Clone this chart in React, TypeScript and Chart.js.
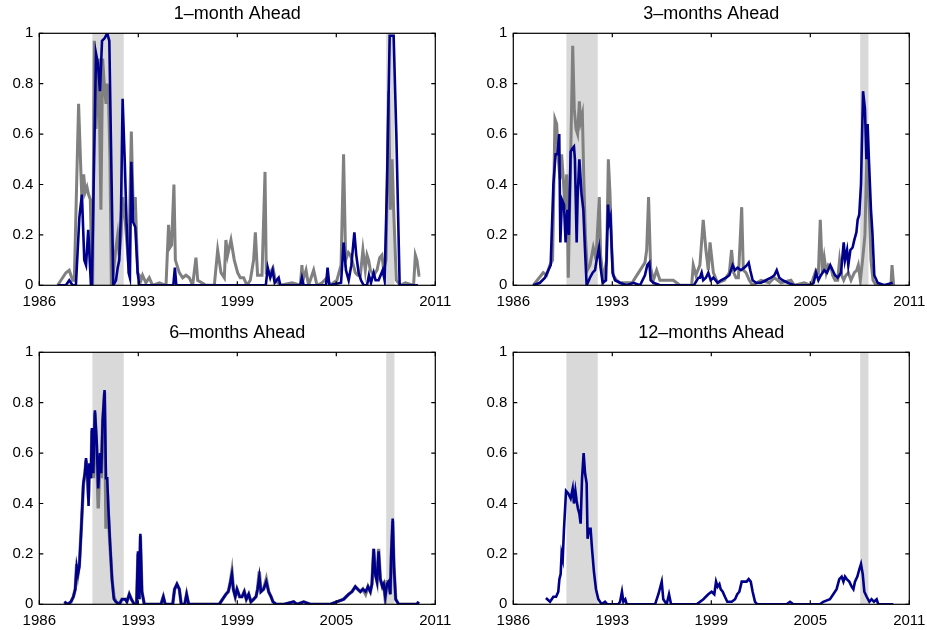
import { useEffect, useRef } from "react";
import { Chart, registerables } from "chart.js";

Chart.register(...registerables);

// ---- axes ----
const xTickValues = [1986, 1992.25, 1998.5, 2004.75, 2011];
const xTickLabels = ["1986", "1993", "1999", "2005", "2011"];
const yTickValues = [0, 0.2, 0.4, 0.6, 0.8, 1];
const yTickLabels = ["0", "0.2", "0.4", "0.6", "0.8", "1"];

// ---- recession shading (start / end, decimal years) ----
const recessionStarts = [1989.35, 2007.9];
const recessionEnds = [1991.33, 2008.42];

const panelTitles = ["1–month Ahead", "3–months Ahead", "6–months Ahead", "12–months Ahead"];

// ---- series: [decimal year, probability] ----
const p1Gray: [number, number][] = [
  [1987.16, 0], [1987.47, 0.03], [1987.68, 0.05], [1987.89, 0.06], [1988.1, 0.02], [1988.21, 0.02],
  [1988.48, 0.72], [1988.63, 0.44], [1988.69, 0.34], [1988.8, 0.44], [1988.9, 0.37], [1989.01, 0.39],
  [1989.11, 0.36], [1989.22, 0.34], [1989.32, 0.05], [1989.37, 0], [1989.47, 0.97], [1989.58, 0.62],
  [1989.75, 0.9], [1989.89, 0.3], [1990.0, 0.9], [1990.1, 0.8], [1990.21, 0.72], [1990.29, 0.8],
  [1990.38, 0.72], [1990.46, 0.5], [1990.55, 0], [1990.67, 0.05], [1990.84, 0.15], [1990.95, 0.2],
  [1991.05, 0.12], [1991.16, 0.2], [1991.26, 0.35], [1991.43, 0.25], [1991.64, 0.08], [1991.81, 0.61],
  [1991.93, 0.3], [1992.06, 0.35], [1992.21, 0.05], [1992.31, 0.04], [1992.42, 0.02], [1992.52, 0.04],
  [1992.73, 0.01], [1992.94, 0.03], [1993.15, 0], [1993.58, 0.01], [1994.0, 0], [1994.16, 0.24],
  [1994.25, 0.15], [1994.35, 0.16], [1994.5, 0.4], [1994.59, 0.1], [1994.84, 0.05], [1995.05, 0.03],
  [1995.26, 0.04], [1995.47, 0.03], [1995.68, 0], [1995.89, 0.11], [1996.0, 0.02], [1996.52, 0],
  [1997.05, 0], [1997.26, 0.14], [1997.47, 0.05], [1997.68, 0.03], [1997.78, 0.18], [1997.89, 0.12],
  [1998.1, 0.18], [1998.31, 0.1], [1998.52, 0.05], [1998.69, 0.03], [1998.9, 0.03], [1999.11, 0],
  [1999.32, 0.02], [1999.53, 0.1], [1999.64, 0.21], [1999.78, 0.04], [2000.06, 0.04], [2000.25, 0.45],
  [2000.33, 0.05], [2000.58, 0.05], [2000.75, 0.07], [2000.9, 0.02], [2001.22, 0], [2001.95, 0.01],
  [2002.48, 0], [2002.58, 0.08], [2002.65, 0.02], [2002.84, 0.06], [2003.0, 0], [2003.32, 0.06],
  [2003.53, 0], [2003.85, 0.01], [2004.16, 0.03], [2004.37, 0], [2004.79, 0.02], [2005.05, 0.08],
  [2005.21, 0.52], [2005.34, 0.1], [2005.51, 0.13], [2005.63, 0.12], [2005.74, 0.1], [2005.95, 0.05],
  [2006.1, 0.04], [2006.27, 0.04], [2006.43, 0.14], [2006.58, 0.06], [2006.69, 0.12], [2006.79, 0.1],
  [2006.9, 0.06], [2007.11, 0.04], [2007.32, 0.06], [2007.49, 0.11], [2007.63, 0.12], [2007.74, 0.06],
  [2007.89, 0.1], [2008.05, 0.77], [2008.16, 0.3], [2008.27, 0.5], [2008.37, 0.3], [2008.54, 0.02],
  [2008.79, 0], [2009.11, 0.01], [2009.63, 0], [2009.74, 0.12], [2009.84, 0.1], [2009.97, 0.04],
  [2010.05, 0.04],
];

const p1Blue: [number, number][] = [
  [1987.16, 0], [1987.68, 0], [1987.89, 0.02], [1988.1, 0], [1988.31, 0], [1988.53, 0.27],
  [1988.69, 0.36], [1988.84, 0.1], [1988.95, 0.08], [1989.09, 0.22], [1989.26, 0], [1989.32, 0],
  [1989.58, 0.92], [1989.7, 0.88], [1989.83, 0.77], [1989.96, 0.97], [1990.12, 0.98], [1990.29, 1.0],
  [1990.42, 0.97], [1990.67, 0], [1990.84, 0.02], [1990.95, 0.07], [1991.05, 0.1], [1991.16, 0.3],
  [1991.26, 0.74], [1991.39, 0.5], [1991.51, 0.25], [1991.64, 0.05], [1991.72, 0.03], [1991.81, 0.49],
  [1991.93, 0.25], [1992.06, 0.23], [1992.21, 0.05], [1992.31, 0], [1994.46, 0], [1994.56, 0.07],
  [1994.65, 0], [2000.3, 0], [2000.42, 0.07], [2000.58, 0.03], [2000.73, 0.06], [2000.86, 0.01],
  [2001.11, 0.03], [2001.22, 0], [2002.48, 0], [2002.58, 0.03], [2002.69, 0], [2004.1, 0],
  [2004.2, 0.07], [2004.31, 0], [2005.05, 0.01], [2005.21, 0.17], [2005.36, 0.06], [2005.53, 0.02],
  [2005.7, 0.08], [2005.89, 0.21], [2006.01, 0.12], [2006.16, 0.05], [2006.31, 0.02], [2006.48, 0],
  [2006.69, 0], [2006.81, 0.04], [2006.94, 0.01], [2007.11, 0.05], [2007.23, 0.02], [2007.42, 0.02],
  [2007.68, 0.06], [2007.8, 0.02], [2007.95, 0.4], [2008.12, 0.99], [2008.37, 0.99], [2008.54, 0.6],
  [2008.75, 0], [2009.9, 0],
];

const p2Gray: [number, number][] = [
  [1987.26, 0], [1987.89, 0.05], [1988.1, 0.04], [1988.31, 0.08], [1988.48, 0.1], [1988.63, 0.66],
  [1988.74, 0.64], [1988.84, 0.5], [1988.95, 0.42], [1989.05, 0.52], [1989.16, 0.42], [1989.26, 0.3],
  [1989.37, 0.44], [1989.41, 0.3], [1989.47, 0.03], [1989.62, 0.5], [1989.75, 0.95], [1989.85, 0.7],
  [1989.96, 0.62], [1990.06, 0.6], [1990.17, 0.73], [1990.25, 0.65], [1990.36, 0.68], [1990.46, 0.4],
  [1990.55, 0.2], [1990.67, 0.06], [1990.84, 0.08], [1991.05, 0.15], [1991.16, 0.12], [1991.26, 0.15],
  [1991.43, 0.35], [1991.51, 0.12], [1991.68, 0.02], [1991.89, 0.1], [1992.0, 0.5], [1992.1, 0.37],
  [1992.21, 0.15], [1992.31, 0.04], [1992.52, 0.02], [1992.73, 0.01], [1993.5, 0.01], [1994.31, 0.09],
  [1994.42, 0.14], [1994.54, 0.35], [1994.67, 0.07], [1994.84, 0.02], [1995.05, 0.06], [1995.26, 0.02],
  [1995.68, 0.02], [1996.1, 0.02], [1996.52, 0], [1997.26, 0], [1997.36, 0.08], [1997.53, 0.04],
  [1997.78, 0.08], [1997.99, 0.26], [1998.16, 0.14], [1998.31, 0.06], [1998.42, 0.17], [1998.63, 0.05],
  [1998.9, 0.01], [1999.32, 0.02], [1999.64, 0.05], [1999.78, 0.14], [1999.91, 0.05], [2000.06, 0.03],
  [2000.21, 0.03], [2000.42, 0.31], [2000.52, 0.06], [2000.69, 0.05], [2000.9, 0.02], [2001.11, 0],
  [2001.64, 0.02], [2002.16, 0.01], [2002.48, 0.03], [2002.69, 0.02], [2002.9, 0.01], [2003.53, 0.02],
  [2003.74, 0], [2004.37, 0.01], [2004.79, 0], [2005.11, 0.06], [2005.26, 0.05], [2005.38, 0.26],
  [2005.51, 0.05], [2005.63, 0.11], [2005.76, 0.05], [2005.89, 0.08], [2006.06, 0.07], [2006.16, 0.04],
  [2006.31, 0.02], [2006.48, 0.02], [2006.6, 0.1], [2006.73, 0.04], [2006.86, 0.02], [2007.0, 0.04],
  [2007.15, 0.05], [2007.32, 0.02], [2007.53, 0.05], [2007.68, 0.06], [2007.78, 0.08], [2007.91, 0.02],
  [2008.05, 0.1], [2008.2, 0.2], [2008.33, 0.55], [2008.45, 0.35], [2008.58, 0.1], [2008.71, 0.02],
  [2008.9, 0], [2009.84, 0], [2009.91, 0.08], [2010.01, 0],
];

const p2Blue: [number, number][] = [
  [1987.26, 0], [1987.68, 0.01], [1988.0, 0.03], [1988.21, 0.06], [1988.36, 0.08], [1988.53, 0.4],
  [1988.67, 0.52], [1988.78, 0.52], [1988.9, 0.6], [1988.97, 0.17], [1989.07, 0.34], [1989.2, 0.32],
  [1989.3, 0.17], [1989.41, 0.3], [1989.51, 0.2], [1989.62, 0.53], [1989.7, 0.54], [1989.83, 0.55],
  [1989.89, 0.5], [1990.0, 0.17], [1990.06, 0.35], [1990.17, 0.5], [1990.31, 0.36], [1990.42, 0.3],
  [1990.52, 0.15], [1990.63, 0], [1990.84, 0.03], [1991.01, 0.05], [1991.16, 0.06], [1991.26, 0.1],
  [1991.41, 0.15], [1991.51, 0.07], [1991.64, 0.01], [1991.85, 0.02], [1991.98, 0.32], [1992.06, 0.25],
  [1992.14, 0.27], [1992.27, 0.05], [1992.42, 0.02], [1992.73, 0.01], [1993.15, 0], [1993.58, 0.01],
  [1994.0, 0], [1994.31, 0.04], [1994.46, 0.08], [1994.59, 0.09], [1994.67, 0.02], [1994.84, 0.01],
  [1995.26, 0], [1997.4, 0], [1997.68, 0.03], [1997.78, 0.03], [1997.89, 0.05], [1997.99, 0.02],
  [1998.16, 0.03], [1998.31, 0.05], [1998.46, 0.02], [1998.63, 0.03], [1998.9, 0.01], [1999.11, 0.02],
  [1999.43, 0.03], [1999.64, 0.04], [1999.85, 0.08], [1999.99, 0.06], [2000.16, 0.07], [2000.37, 0.06],
  [2000.58, 0.07], [2000.75, 0.08], [2000.86, 0.09], [2000.96, 0.06], [2001.11, 0.02], [2001.32, 0.01],
  [2001.64, 0.01], [2001.95, 0.02], [2002.27, 0.03], [2002.48, 0.04], [2002.63, 0.06], [2002.79, 0.03],
  [2003.0, 0.02], [2003.32, 0.01], [2003.74, 0], [2004.79, 0], [2004.96, 0.01], [2005.11, 0.05],
  [2005.26, 0.02], [2005.42, 0.04], [2005.63, 0.06], [2005.8, 0.05], [2006.01, 0.08], [2006.16, 0.06],
  [2006.31, 0.04], [2006.48, 0.03], [2006.69, 0.05], [2006.86, 0.17], [2006.94, 0.1], [2007.07, 0.14],
  [2007.15, 0.08], [2007.28, 0.14], [2007.42, 0.15], [2007.53, 0.18], [2007.66, 0.21], [2007.74, 0.26],
  [2007.84, 0.28], [2007.95, 0.4], [2008.08, 0.77], [2008.2, 0.7], [2008.29, 0.5], [2008.37, 0.64],
  [2008.45, 0.5], [2008.58, 0.3], [2008.67, 0.21], [2008.79, 0.04], [2009.0, 0.01], [2009.42, 0],
  [2009.95, 0.01],
];

const p3Years = [
  1987.58, 1987.79, 1988.0, 1988.15, 1988.27, 1988.36, 1988.44, 1988.53, 1988.65, 1988.78, 1988.88,
  1988.95, 1989.05, 1989.11, 1989.16, 1989.26, 1989.32, 1989.41, 1989.51, 1989.62, 1989.72, 1989.83,
  1989.91, 1990.0, 1990.12, 1990.21, 1990.29, 1990.36, 1990.46, 1990.59, 1990.71, 1990.84, 1991.05,
  1991.22, 1991.43, 1991.53, 1991.68, 1991.81, 1992.0, 1992.14, 1992.23, 1992.31, 1992.38, 1992.48,
  1992.63, 1993.68, 1993.83, 1993.95, 1994.42, 1994.54, 1994.69, 1994.84, 1994.96, 1995.18, 1995.3,
  1995.43, 1997.36, 1997.57, 1997.78, 1997.93, 1998.04, 1998.16, 1998.25, 1998.37, 1998.48, 1998.65,
  1998.8, 1998.94, 1999.07, 1999.22, 1999.36, 1999.53, 1999.68, 1999.78, 1999.89, 1999.99, 2000.16,
  2000.33, 2000.48, 2000.63, 2000.75, 2000.96, 2001.43, 2002.06, 2002.27, 2002.69, 2003.11, 2004.37,
  2004.79, 2005.21, 2005.53, 2005.74, 2005.95, 2006.1, 2006.27, 2006.43, 2006.6, 2006.75, 2006.9,
  2007.0, 2007.11, 2007.21, 2007.32, 2007.42, 2007.53, 2007.66, 2007.74, 2007.84, 2007.95, 2008.05,
  2008.16, 2008.22, 2008.31, 2008.39, 2008.5, 2008.69, 2009.84, 2009.95,
];
const p3Blue = [
  0.01, 0, 0.01, 0.03, 0.06, 0.15, 0.12, 0.15, 0.3, 0.48, 0.52,
  0.58, 0.5, 0.39, 0.56, 0.5, 0.7, 0.52, 0.77, 0.65, 0.46, 0.6,
  0.52, 0.73, 0.85, 0.5, 0.5, 0.38, 0.25, 0.1, 0.02, 0.01, 0,
  0.02, 0.02, 0.01, 0.04, 0.02, 0, 0, 0.21, 0.02, 0.28, 0.05,
  0, 0, 0.03, 0, 0, 0.06, 0.08, 0.06, 0, 0, 0.04,
  0, 0, 0.02, 0.04, 0.05, 0.08, 0.12, 0.06, 0.03, 0.06, 0.03,
  0.03, 0.05, 0.02, 0.04, 0.01, 0.02, 0.03, 0.06, 0.11, 0.05, 0.06,
  0.09, 0.05, 0.03, 0.01, 0, 0, 0.01, 0, 0.01, 0, 0,
  0.01, 0.02, 0.04, 0.05, 0.07, 0.06, 0.05, 0.06, 0.05, 0.07, 0.05,
  0.08, 0.22, 0.12, 0.09, 0.21, 0.1, 0.07, 0.08, 0.03, 0.08, 0.09,
  0.04, 0.2, 0.34, 0.15, 0.02, 0, 0, 0.01,
];
const p3Gray = [
  0.01, 0, 0.01, 0.03, 0.06, 0.16, 0.12, 0.16, 0.3, 0.47, 0.52,
  0.57, 0.5, 0.42, 0.55, 0.5, 0.69, 0.5, 0.76, 0.62, 0.38, 0.58,
  0.5, 0.72, 0.84, 0.3, 0.45, 0.36, 0.24, 0.1, 0.03, 0.01, 0,
  0.02, 0.02, 0.01, 0.04, 0.02, 0, 0, 0.2, 0.02, 0.27, 0.05,
  0, 0, 0.03, 0, 0, 0.06, 0.08, 0.06, 0, 0, 0.04,
  0, 0, 0.02, 0.04, 0.05, 0.08, 0.13, 0.06, 0.03, 0.06, 0.03,
  0.03, 0.05, 0.02, 0.04, 0.01, 0.02, 0.03, 0.06, 0.13, 0.05, 0.06,
  0.1, 0.05, 0.03, 0.01, 0, 0, 0.01, 0, 0.01, 0, 0,
  0.01, 0.02, 0.04, 0.05, 0.07, 0.06, 0.05, 0.06, 0.04, 0.07, 0.05,
  0.08, 0.22, 0.12, 0.09, 0.22, 0.1, 0.07, 0.08, 0.02, 0.09, 0.09,
  0.04, 0.19, 0.33, 0.15, 0.02, 0, 0, 0.01,
];

const p4Blue: [number, number][] = [
  [1988.06, 0.025], [1988.32, 0.01], [1988.53, 0.03], [1988.7, 0.03], [1988.84, 0.05], [1988.91, 0.1],
  [1988.99, 0.12], [1989.05, 0.2], [1989.12, 0.18], [1989.2, 0.3], [1989.33, 0.45], [1989.47, 0.44],
  [1989.62, 0.42], [1989.75, 0.46], [1989.83, 0.4], [1989.92, 0.45], [1990.0, 0.41], [1990.08, 0.38],
  [1990.17, 0.36], [1990.25, 0.32], [1990.34, 0.5], [1990.44, 0.6], [1990.53, 0.52], [1990.63, 0.48],
  [1990.69, 0.26], [1990.78, 0.3], [1990.88, 0.3], [1990.97, 0.22], [1991.09, 0.13], [1991.22, 0.06],
  [1991.37, 0.02], [1991.58, 0], [1991.79, 0.01], [1991.94, 0], [1992.63, 0], [1992.74, 0.01],
  [1992.86, 0.05], [1992.95, 0.01], [1993.07, 0.02], [1993.16, 0], [1994.95, 0], [1995.16, 0.04],
  [1995.37, 0.09], [1995.47, 0.02], [1995.68, 0], [1995.83, 0.04], [1995.96, 0], [1997.58, 0],
  [1998.0, 0.02], [1998.31, 0.04], [1998.52, 0.05], [1998.69, 0.04], [1998.8, 0.09], [1998.9, 0.07],
  [1999.01, 0.08], [1999.09, 0.06], [1999.22, 0.05], [1999.36, 0.03], [1999.51, 0.01], [1999.79, 0.01],
  [2000.0, 0.02], [2000.14, 0.04], [2000.27, 0.05], [2000.42, 0.09], [2000.56, 0.09], [2000.73, 0.09],
  [2000.86, 0.1], [2000.99, 0.09], [2001.11, 0.05], [2001.26, 0.01], [2001.41, 0], [2003.26, 0],
  [2003.47, 0.01], [2003.68, 0], [2005.36, 0], [2005.57, 0.01], [2005.99, 0.02], [2006.2, 0.04],
  [2006.41, 0.06], [2006.58, 0.1], [2006.73, 0.11], [2006.84, 0.09], [2006.94, 0.11], [2007.05, 0.1],
  [2007.21, 0.09], [2007.36, 0.07], [2007.47, 0.06], [2007.57, 0.09], [2007.72, 0.11], [2007.85, 0.14],
  [2007.95, 0.16], [2008.06, 0.12], [2008.16, 0.05], [2008.31, 0.03], [2008.48, 0.01], [2008.62, 0.02],
  [2008.77, 0.01], [2008.94, 0.02], [2009.04, 0], [2009.25, 0], [2009.99, 0],
];

const GRAY = "#808080";
const BLUE = "#00008B";
const SHADE = "#D9D9D9";
const FONT = "'Liberation Sans', Arial, Helvetica, sans-serif";

type Series = { points: { x: number; y: number }[]; color: string; width: number; order: number };

const pairs = (arr: [number, number][]) => arr.map(([x, y]) => ({ x, y }));
const zipped = (xs: number[], ys: number[]) => xs.map((x, i) => ({ x, y: ys[i] }));

const panels: { title: string; left: number; top: number; series: Series[] }[] = [
  {
    title: panelTitles[0], left: 0, top: 0,
    series: [
      { points: pairs(p1Blue), color: BLUE, width: 2.6, order: 1 },
      { points: pairs(p1Gray), color: GRAY, width: 3, order: 2 },
    ],
  },
  {
    title: panelTitles[1], left: 474, top: 0,
    series: [
      { points: pairs(p2Blue), color: BLUE, width: 2.6, order: 1 },
      { points: pairs(p2Gray), color: GRAY, width: 3, order: 2 },
    ],
  },
  {
    title: panelTitles[2], left: 0, top: 319,
    series: [
      { points: zipped(p3Years, p3Blue), color: BLUE, width: 2.6, order: 1 },
      { points: zipped(p3Years, p3Gray), color: GRAY, width: 3.4, order: 2 },
    ],
  },
  {
    title: panelTitles[3], left: 474, top: 319,
    series: [{ points: pairs(p4Blue), color: BLUE, width: 2.6, order: 1 }],
  },
];

const framePlugin = {
  id: "frame",
  beforeDatasetsDraw(chart: any) {
    const { ctx, chartArea, scales } = chart;
    const x = scales.x;
    ctx.save();
    ctx.fillStyle = SHADE;
    for (let i = 0; i < recessionStarts.length; i++) {
      const a = x.getPixelForValue(recessionStarts[i]);
      const b = x.getPixelForValue(recessionEnds[i]);
      ctx.fillRect(a, chartArea.top, b - a, chartArea.bottom - chartArea.top);
    }
    ctx.restore();
  },
  afterDraw(chart: any) {
    const { ctx, chartArea, scales } = chart;
    const { left, right, top, bottom } = chartArea;
    const tl = 4;
    ctx.save();
    ctx.strokeStyle = "#000";
    ctx.lineWidth = 1.2;
    ctx.strokeRect(left, top, right - left, bottom - top);
    ctx.beginPath();
    xTickValues.forEach((v) => {
      const px = scales.x.getPixelForValue(v);
      ctx.moveTo(px, bottom);
      ctx.lineTo(px, bottom - tl);
      ctx.moveTo(px, top);
      ctx.lineTo(px, top + tl);
    });
    yTickValues.forEach((v) => {
      const py = scales.y.getPixelForValue(v);
      ctx.moveTo(left, py);
      ctx.lineTo(left + tl, py);
      ctx.moveTo(right, py);
      ctx.lineTo(right - tl, py);
    });
    ctx.stroke();
    ctx.restore();
  },
};

const W = 453;
const H = 311;

function Panel({ title, left, top, series }: { title: string; left: number; top: number; series: Series[] }) {
  const ref = useRef<HTMLCanvasElement | null>(null);
  useEffect(() => {
    if (!ref.current) return;
    const chart = new Chart(ref.current, {
      type: "line",
      data: {
        datasets: series.map((s) => ({
          data: s.points,
          borderColor: s.color,
          borderWidth: s.width,
          pointRadius: 0,
          tension: 0,
          fill: false,
          order: s.order,
          borderJoinStyle: "miter" as const,
        })),
      },
      options: {
        animation: false,
        responsive: false,
        maintainAspectRatio: false,
        devicePixelRatio: 1,
        layout: { padding: { left: 0, right: 17.7, top: 0, bottom: 0 } },
        plugins: {
          legend: { display: false },
          tooltip: { enabled: false },
          title: {
            display: true,
            fullSize: false,
            text: title,
            color: "#000",
            font: { family: FONT, size: 18, weight: "normal" as const, lineHeight: 1.2 },
            padding: { top: 3, bottom: 8.7 },
          },
        },
        scales: {
          x: {
            type: "linear",
            min: 1986,
            max: 2011,
            grid: { display: false, drawTicks: false, tickLength: 0 },
            border: { display: false },
            afterBuildTicks: (s: any) => {
              s.ticks = xTickValues.map((v) => ({ value: v }));
            },
            afterFit: (s: any) => {
              s.height = H - 285.3;
            },
            ticks: {
              autoSkip: false,
              maxRotation: 0,
              padding: 0,
              color: "#000",
              font: { family: FONT, size: 15, lineHeight: 2.15 },
              callback: (_v: any, i: number) => xTickLabels[i],
            },
          },
          y: {
            type: "linear",
            min: 0,
            max: 1,
            grid: { display: false, drawTicks: false, tickLength: 0 },
            border: { display: false },
            afterBuildTicks: (s: any) => {
              s.ticks = yTickValues.map((v) => ({ value: v }));
            },
            afterFit: (s: any) => {
              s.width = 39.3;
            },
            ticks: {
              padding: 6,
              color: "#000",
              font: { family: FONT, size: 15 },
              callback: (_v: any, i: number) => yTickLabels[i],
            },
          },
        },
      },
      plugins: [framePlugin],
    } as any);
    return () => chart.destroy();
  }, [title, series]);
  return (
    <canvas
      ref={ref}
      width={W}
      height={H}
      style={{ position: "absolute", left, top, width: W, height: H }}
    />
  );
}

export default function App() {
  return (
    <div style={{ position: "absolute", left: 0, top: 0, width: 927, height: 630, background: "#fff", overflow: "hidden" }}>
      {panels.map((p) => (
        <Panel key={p.title} title={p.title} left={p.left} top={p.top} series={p.series} />
      ))}
    </div>
  );
}
